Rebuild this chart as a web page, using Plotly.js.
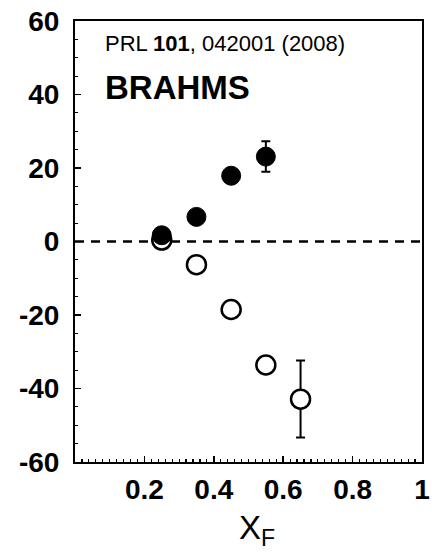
<!DOCTYPE html>
<html>
<head>
<meta charset="utf-8">
<script src="https://cdn.plot.ly/plotly-3.0.1.min.js"></script>
<style>html,body{margin:0;padding:0;background:#fff;}#chart{width:432px;height:557px;}</style>
</head>
<body>
<div id="chart"></div>
<script>
// Data
const xFilled = [0.25, 0.35, 0.45, 0.55];
const yFilled = [1.7, 6.7, 17.9, 23.1];
const errFilledPlus = [null, null, null, 4.2];
const errFilledMinus = [null, null, null, 4.1];

const xOpen = [0.25, 0.35, 0.45, 0.55, 0.65];
const yOpen = [0.4, -6.3, -18.5, -33.6, -42.9];
const errOpenPlus = [null, null, null, null, 10.5];
const errOpenMinus = [null, null, null, null, 10.4];

const xTickVals = [0.2, 0.4, 0.6, 0.8, 1.0];
const xTickText = ['0.2', '0.4', '0.6', '0.8', '1'];
const yTickVals = [-60, -40, -20, 0, 20, 40, 60];
const yTickText = ['-60', '-40', '-20', '0', '20', '40', '60'];

const tickFont = {family: '"Liberation Sans", Arial, sans-serif', size: 28, color: '#000', weight: 'bold'};

const traces = [
  {
    x: xOpen, y: yOpen, type: 'scatter', mode: 'markers',
    marker: {symbol: 'circle', size: 19, color: '#fff', line: {color: '#000', width: 2.5}},
    error_y: {type: 'data', symmetric: false, array: errOpenPlus, arrayminus: errOpenMinus,
              color: '#000', thickness: 2, width: 4.5},
    showlegend: false, hoverinfo: 'x+y'
  },
  {
    x: xFilled, y: yFilled, type: 'scatter', mode: 'markers',
    marker: {symbol: 'circle', size: 19, color: '#000', line: {color: '#000', width: 1}},
    error_y: {type: 'data', symmetric: false, array: errFilledPlus, arrayminus: errFilledMinus,
              color: '#000', thickness: 2, width: 4.5},
    showlegend: false, hoverinfo: 'x+y'
  }
];

const layout = {
  width: 432, height: 557,
  margin: {l: 75, r: 10, t: 21, b: 95, pad: 0},
  paper_bgcolor: '#fff', plot_bgcolor: '#fff',
  showlegend: false,
  xaxis: {
    range: [0, 1], showgrid: false, zeroline: false,
    showline: true, linecolor: '#000', linewidth: 2, mirror: true,
    ticks: 'inside', ticklen: 6, tickwidth: 1.5, tickcolor: '#000',
    tickmode: 'array', tickvals: xTickVals, ticktext: xTickText,
    tickfont: tickFont, ticklabelstandoff: 1,
    minor: {dtick: 0.02, ticks: 'inside', ticklen: 3, tickwidth: 1.2, tickcolor: '#000', showgrid: false}
  },
  xaxis2: {
    range: [0, 1], overlaying: 'x', anchor: 'y', side: 'bottom',
    showgrid: false, zeroline: false, showline: false, showticklabels: false,
    tickmode: 'linear', tick0: 0.1, dtick: 0.2,
    ticks: 'inside', ticklen: 6, tickwidth: 1.5, tickcolor: '#000'
  },
  yaxis: {
    range: [-60, 60], showgrid: false, zeroline: false,
    showline: true, linecolor: '#000', linewidth: 2, mirror: true,
    ticks: 'inside', ticklen: 6, tickwidth: 1.5, tickcolor: '#000',
    tickmode: 'array', tickvals: yTickVals, ticktext: yTickText,
    tickfont: tickFont, ticklabelstandoff: 8,
    minor: {dtick: 5, ticks: 'inside', ticklen: 3, tickwidth: 1.2, tickcolor: '#000', showgrid: false}
  },
  shapes: [
    {type: 'line', xref: 'paper', x0: 0, x1: 1, yref: 'y', y0: 0, y1: 0,
     line: {color: '#000', width: 2.5, dash: '9px,7px'}, layer: 'below'}
  ],
  annotations: [
    {text: 'PRL <b>101</b>, 042001 (2008)', xref: 'paper', yref: 'paper', x: 0.08, y: 0.949,
     xanchor: 'left', yanchor: 'middle', showarrow: false,
     font: {family: '"Liberation Sans", Arial, sans-serif', size: 22, color: '#000'}},
    {text: '<b>BRAHMS</b>', xref: 'paper', yref: 'paper', x: 0.08, y: 0.849,
     xanchor: 'left', yanchor: 'middle', showarrow: false,
     font: {family: '"Liberation Sans", Arial, sans-serif', size: 33, color: '#000'}},
    {text: 'X<sub>F</sub>', xref: 'paper', yref: 'paper', x: 0.467, y: -0.155,
     xanchor: 'left', yanchor: 'middle', showarrow: false,
     font: {family: '"Liberation Sans", Arial, sans-serif', size: 33, color: '#000'}}
  ]
};

Plotly.newPlot('chart', traces, layout, {staticPlot: true, displayModeBar: false});
</script>
</body>
</html>
